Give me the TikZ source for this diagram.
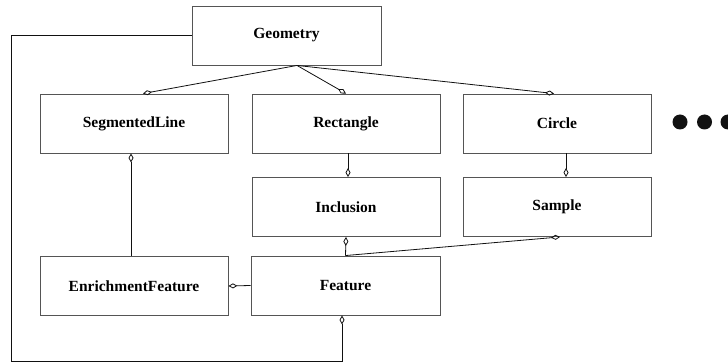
\documentclass[tikz,border=0pt]{standalone}
\usepackage{fontspec}
\setmainfont{Liberation Serif}
\usepackage{tikz}
\usetikzlibrary{arrows.meta}
\definecolor{umlgray}{HTML}{555555}
\definecolor{umlblack}{HTML}{111111}

\begin{document}
\begin{tikzpicture}[x=1pt, y=-1pt,
  cls/.style={draw=umlgray, line width=0.9pt, minimum width=188pt, minimum height=59pt, inner sep=1pt, font=\fontsize{15.5}{18}\selectfont\bfseries},
  agg/.style={draw=umlblack, line width=0.8pt, -{Diamond[open, length=9pt, width=5pt]}}]
  \useasboundingbox (0,0) rectangle (728,363);
  \node[cls, minimum width=189pt] (geo) at (286.5,35.5) {Geometry};
  \node[cls] (seg) at (134,123.5) {SegmentedLine};
  \node[cls] (rect) at (346,123.5) {Rectangle};
  \node[cls] (circ) at (557,123.5) {Circle};
  \node[cls] (incl) at (346,207) {Inclusion};
  \node[cls] (samp) at (557,207) {Sample};
  \node[cls] (enr) at (134,286) {EnrichmentFeature};
  \node[cls, minimum width=189pt] (feat) at (345.5,285.5) {Feature};
  \coordinate (hub) at ([xshift=10.5pt]geo.south);
  \coordinate (corner) at (11,361);
  \draw[agg] (hub) -- ([xshift=9pt]seg.north);
  \draw[agg] (hub) -- (rect.north);
  \draw[agg] (hub) -- ([xshift=-3pt]circ.north);
  \draw[agg] ([xshift=2pt]rect.south) -- ([xshift=2pt]incl.north);
  \draw[agg] ([xshift=9pt]circ.south) -- ([xshift=9pt]samp.north);
  \draw[agg] (feat.north) -- (incl.south);
  \draw[agg] (feat.north) -- ([xshift=3pt]samp.south);
  \draw[agg] ([xshift=-3pt]enr.north) -- ([xshift=-3pt]seg.south);
  \draw[agg] (feat.west) -- (enr.east);
  \draw[agg] (geo.west) -| (corner) -| ([xshift=-3.5pt]feat.south);
  \foreach \dx in {680,704.5,728}
    \fill[umlblack] (\dx,122) circle[radius=7.5pt];
\end{tikzpicture}
\end{document}
